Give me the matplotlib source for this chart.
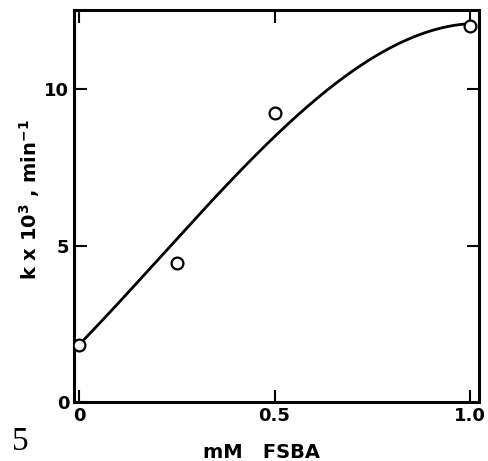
import numpy as np
import matplotlib
matplotlib.use("Agg")
import matplotlib.pyplot as plt

# Measured rate constants vs. FSBA concentration
fsba_mM = [0.0, 0.25, 0.50, 1.0]
k_x1e3 = [1.82, 4.45, 9.23, 12.02]

# Smooth fitted curve (values along the drawn line)
curve_x = [0.0, 0.25, 0.514, 0.685, 0.77, 0.856, 1.0]
curve_y = [1.85, 5.2, 8.7, 10.4, 11.15, 11.68, 12.1]

x_ticks = [0, 0.5, 1.0]
x_tick_labels = ["0", "0.5", "1.0"]
y_ticks = [0, 5, 10]
y_tick_labels = ["0", "5", "10"]

plt.rcParams["mathtext.fontset"] = "dejavusans"

fig = plt.figure(figsize=(4.89, 4.61), dpi=100)
ax = fig.add_axes([74 / 489, 1 - 402 / 461, (479.5 - 74) / 489, (402 - 10.5) / 461])

coef = np.polyfit(curve_x, curve_y, 3)
xs = np.linspace(0.012, 0.99, 200)
ax.plot(xs, np.polyval(coef, xs), color="black", lw=2.0, solid_capstyle="round")
ax.plot(fsba_mM, k_x1e3, "o", ms=8.5, mfc="white", mec="black", mew=1.6, zorder=3)

ax.set_xlim(-0.0141, 1.0256)
ax.set_ylim(0, 12.52)

for side in ax.spines.values():
    side.set_linewidth(2.2)

ax.set_xticks(x_ticks)
ax.set_xticklabels(x_tick_labels)
ax.set_yticks(y_ticks)
ax.set_yticklabels(y_tick_labels)
ax.tick_params(direction="in", length=9, width=1.5, top=True, right=True,
               labelsize=13, pad=3.5)
for lab in ax.get_xticklabels() + ax.get_yticklabels():
    lab.set_fontweight("bold")

fig.text(30 / 489, 1 - 200 / 461, r"k x 10$^\mathbf{3}$ , min$^\mathbf{-1}$",
         rotation=90, ha="center", va="center", fontsize=14, fontweight="bold")
fig.text(262 / 489, 1 - 452 / 461, "mM   FSBA", ha="center", va="center",
         fontsize=14, fontweight="bold")
fig.text(20 / 489, 1 - 442 / 461, "5", ha="center", va="center",
         fontsize=24, family="Liberation Serif")

fig.savefig("out.png", dpi=100)
